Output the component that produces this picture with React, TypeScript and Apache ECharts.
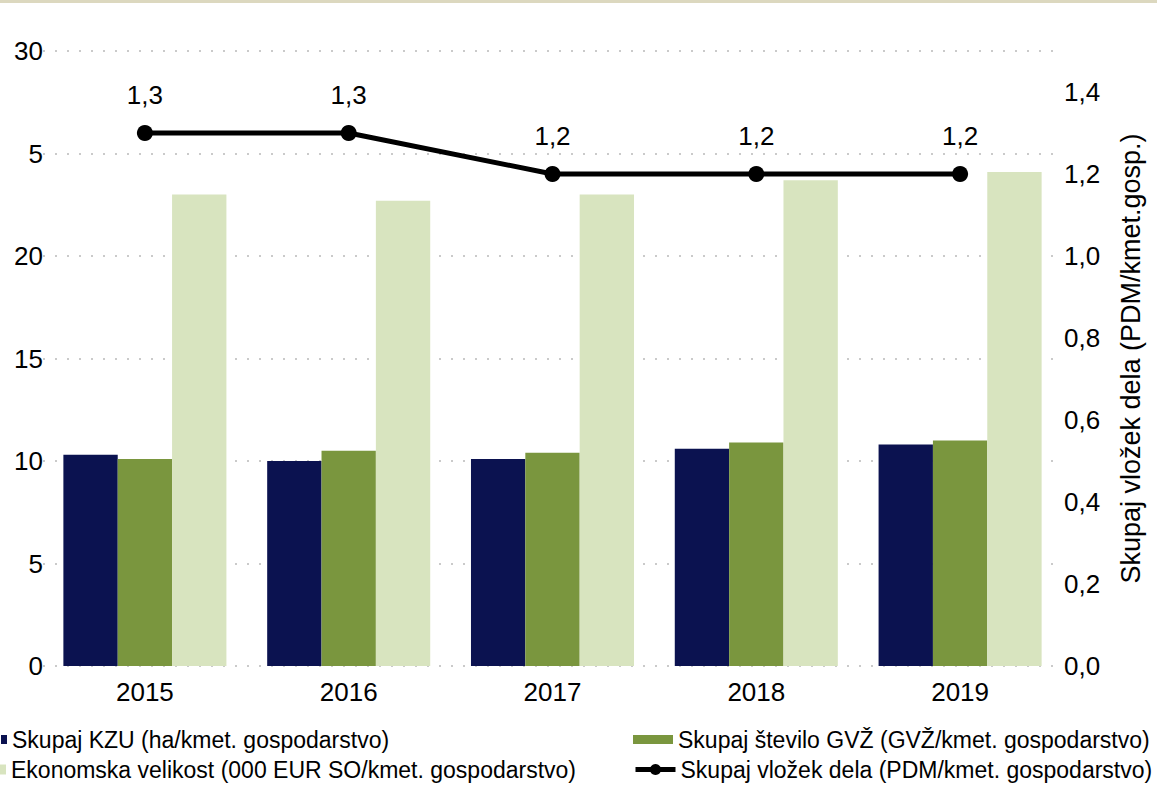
import React, { useEffect, useRef } from "react";
import * as echarts from "echarts";

const categories = ["2015", "2016", "2017", "2018", "2019"];
const kzu = [10.3, 10.0, 10.1, 10.6, 10.8];
const gvz = [10.1, 10.5, 10.4, 10.9, 11.0];
const ekonomska = [23.0, 22.7, 23.0, 23.7, 24.1];
const vlozek = [1.3, 1.3, 1.2, 1.2, 1.2];
const leftTickLabels = ["0", "5", "10", "15", "20", "5", "30"];

const nameKzu = "Skupaj KZU (ha/kmet. gospodarstvo)";
const nameGvz = "Skupaj število GVŽ (GVŽ/kmet. gospodarstvo)";
const nameEko = "Ekonomska velikost (000 EUR SO/kmet. gospodarstvo)";
const nameVlozek = "Skupaj vložek dela (PDM/kmet. gospodarstvo)";
const rightAxisName = "Skupaj vložek dela (PDM/kmet.gosp.)";

const FONT = "'Liberation Sans', Arial, sans-serif";
const NAVY = "#0b1250";
const GREEN = "#7a963e";
const LIGHT = "#d8e4bf";

export default function App() {
  const ref = useRef<HTMLDivElement>(null);
  useEffect(() => {
    document.body.style.margin = "0";
    const chart = echarts.init(ref.current!, undefined, { renderer: "svg" });
    const legendText = { fontFamily: FONT, fontSize: 23, color: "#000" };
    chart.setOption({
      animation: false,
      backgroundColor: "#fff",
      textStyle: { fontFamily: FONT },
      graphic: [
        {
          type: "rect",
          left: 0,
          top: 0,
          shape: { width: 1157, height: 3 },
          style: { fill: "#dcd8bf" },
        },
      ],
      grid: { left: 43, right: 95, top: 51, bottom: 120, containLabel: false },
      legend: [
        {
          data: [nameKzu],
          left: 1,
          top: 728,
          padding: 0,
          itemWidth: 6,
          itemHeight: 9,
          icon: "rect",
          textStyle: legendText,
        },
        {
          data: [nameEko],
          left: 0,
          top: 758,
          padding: 0,
          itemWidth: 6,
          itemHeight: 10,
          icon: "rect",
          textStyle: legendText,
        },
        {
          data: [nameGvz],
          left: 633,
          top: 728,
          padding: 0,
          itemWidth: 40,
          itemHeight: 9,
          icon: "rect",
          textStyle: legendText,
        },
        {
          data: [nameVlozek],
          left: 633,
          top: 758,
          padding: 0,
          itemWidth: 40,
          itemHeight: 14,
          lineStyle: { width: 5, color: "#000" },
          textStyle: legendText,
        },
      ],
      xAxis: {
        type: "category",
        data: categories,
        axisLine: { show: false },
        axisTick: { show: false },
        axisLabel: { fontSize: 26, color: "#000", margin: 13, fontFamily: FONT },
      },
      yAxis: [
        {
          type: "value",
          min: 0,
          max: 30,
          interval: 5,
          axisLine: { show: false },
          axisTick: { show: false },
          axisLabel: {
            fontSize: 26,
            color: "#000",
            margin: 0,
            fontFamily: FONT,
            formatter: (v: number) => leftTickLabels[Math.round(v / 5)] ?? "",
          },
          splitLine: {
            show: true,
            lineStyle: { color: "#cacaca", width: 2, type: [2, 10] },
          },
        },
        {
          type: "value",
          min: 0,
          max: 1.5,
          interval: 0.2,
          position: "right",
          name: rightAxisName,
          nameLocation: "middle",
          nameRotate: 90,
          nameGap: 55,
          nameTextStyle: { fontSize: 27, color: "#000", fontFamily: FONT },
          axisLine: { show: false },
          axisTick: { show: false },
          splitLine: { show: false },
          axisLabel: {
            fontSize: 26,
            color: "#000",
            margin: 2,
            fontFamily: FONT,
            formatter: (v: number) =>
              v > 1.45 ? "" : v.toFixed(1).replace(".", ","),
          },
        },
      ],
      series: [
        {
          name: nameKzu,
          type: "bar",
          data: kzu,
          itemStyle: { color: NAVY },
          barGap: "0%",
          barCategoryGap: "20%",
        },
        {
          name: nameGvz,
          type: "bar",
          data: gvz,
          itemStyle: { color: GREEN },
          barGap: "0%",
          barCategoryGap: "20%",
        },
        {
          name: nameEko,
          type: "bar",
          data: ekonomska,
          itemStyle: { color: LIGHT },
          barGap: "0%",
          barCategoryGap: "20%",
        },
        {
          name: nameVlozek,
          type: "line",
          yAxisIndex: 1,
          data: vlozek,
          symbol: "circle",
          symbolSize: 16,
          lineStyle: { color: "#000", width: 5 },
          itemStyle: { color: "#000" },
          label: {
            show: true,
            position: "top",
            distance: 17,
            fontSize: 26,
            color: "#000",
            fontFamily: FONT,
            formatter: (p: any) => String(p.value.toFixed(1)).replace(".", ","),
          },
        },
      ],
    });
    return () => chart.dispose();
  }, []);
  return <div ref={ref} style={{ width: 1157, height: 786 }} />;
}
